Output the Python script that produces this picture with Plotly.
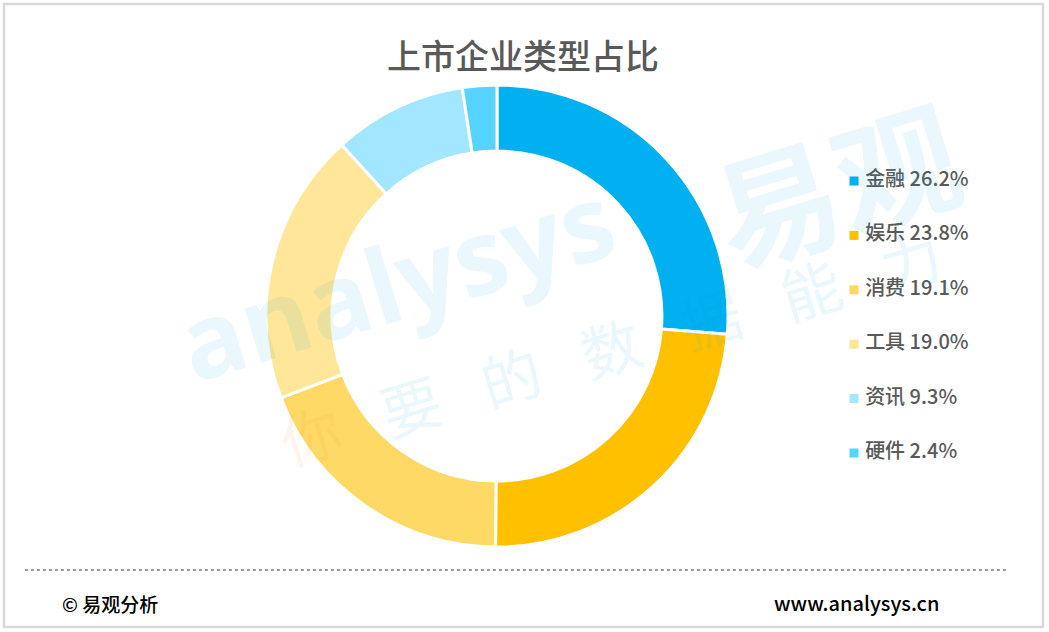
import plotly.graph_objects as go

W, H = 1049, 632

categories = ["金融", "娱乐", "消费", "工具", "资讯", "硬件"]
values = [26.2, 23.8, 19.1, 19.0, 9.3, 2.4]
colors = ["#00B0F0", "#FFC000", "#FFD966", "#FFE699", "#A2E6FF", "#55D4FF"]
title_text = "上市企业类型占比"
source_text = "© 易观分析"
site_text = "www.analysys.cn"
slogan_chars = ["你", "要", "的", "数", "据", "能", "力"]

FONT = "Noto Sans CJK SC"

fig = go.Figure()

# donut
cx, cy, R = 497, 316, 231
fig.add_trace(go.Pie(
    labels=categories, values=values, sort=False, direction="clockwise",
    rotation=0, hole=0.714, textinfo="none", hoverinfo="label+percent",
    marker=dict(colors=colors, line=dict(color="white", width=3)),
    domain=dict(x=[(cx - R) / W, (cx + R) / W], y=[1 - (cy + R) / H, 1 - (cy - R) / H]),
    showlegend=False,
))

# custom legend
legend_labels = ["\u00a0" + f"{c} {v:.1f}%" for c, v in zip(categories, values)]
fig.add_trace(go.Scatter(
    x=[0] * len(categories), y=list(range(len(categories))),
    mode="markers+text", text=legend_labels, textposition="middle right",
    textfont=dict(family=FONT, size=20, color="#595959", weight=500),
    marker=dict(symbol="square", size=9, color=colors),
    cliponaxis=False, hoverinfo="skip", showlegend=False,
    xaxis="x", yaxis="y",
))

fig.update_layout(
    width=W, height=H, margin=dict(l=0, r=0, t=0, b=0),
    paper_bgcolor="white", plot_bgcolor="rgba(0,0,0,0)",
    xaxis=dict(domain=[854 / W, 1000 / W], range=[0, 1], visible=False, fixedrange=True),
    yaxis=dict(domain=[1 - 453 / H, 1 - 181 / H], range=[5, 0], visible=False, fixedrange=True),
    font=dict(family=FONT),
    showlegend=False,
)

ANG = -17
annotations = [
    # watermark
    dict(text="<b>analysys</b>", x=395 / W, y=1 - 280 / H, font=dict(family="Open Sans", size=104, color="#00A0E0"),
         textangle=ANG, opacity=0.08),
    dict(text="<b>易观</b>", x=835 / W, y=1 - 180 / H, font=dict(family=FONT, size=124, color="#00A0E0"),
         textangle=ANG, opacity=0.08),
]
# slogan characters along a line
for i, ch in enumerate(slogan_chars):
    x0, y0 = 310 + i * 100, 432 - i * 29
    annotations.append(dict(
        text=ch, x=x0 / W, y=1 - y0 / H, textangle=ANG,
        font=dict(family=FONT, size=60, color="#F5A040" if i == 0 else "#00A0E0"),
        opacity=0.1 if i == 0 else 0.08,
    ))
annotations += [
    # title
    dict(text=title_text, x=523 / W, y=1 - 54 / H, font=dict(family=FONT, size=34, color="#595959", weight=500)),
    # footer
    dict(text=source_text, x=60 / W, y=1 - 603 / H, xanchor="left", font=dict(family=FONT, size=19, color="#000000", weight=500)),
    dict(text=site_text, x=941 / W, y=1 - 602 / H, xanchor="right", font=dict(family=FONT, size=20, color="#000000", weight=500)),
]
for a in annotations:
    a.setdefault("xref", "paper")
    a.setdefault("yref", "paper")
    a.setdefault("showarrow", False)
    a.setdefault("xanchor", "center")
    a.setdefault("yanchor", "middle")
fig.update_layout(annotations=annotations)

fig.update_layout(shapes=[
    dict(type="rect", xref="paper", yref="paper", x0=4 / W, x1=1043 / W, y0=1 - 627 / H, y1=1 - 4 / H,
         line=dict(color="#D9D9D9", width=2.5), fillcolor="rgba(0,0,0,0)", layer="above"),
    dict(type="line", xref="paper", yref="paper", x0=25 / W, x1=1007 / W, y0=1 - 570 / H, y1=1 - 570 / H,
         line=dict(color="#7F7F7F", width=1.5, dash="dot")),
])

fig.write_html("out.html", config={"displayModeBar": False},
               post_script="document.body.style.margin='0';document.body.style.overflow='hidden';")
